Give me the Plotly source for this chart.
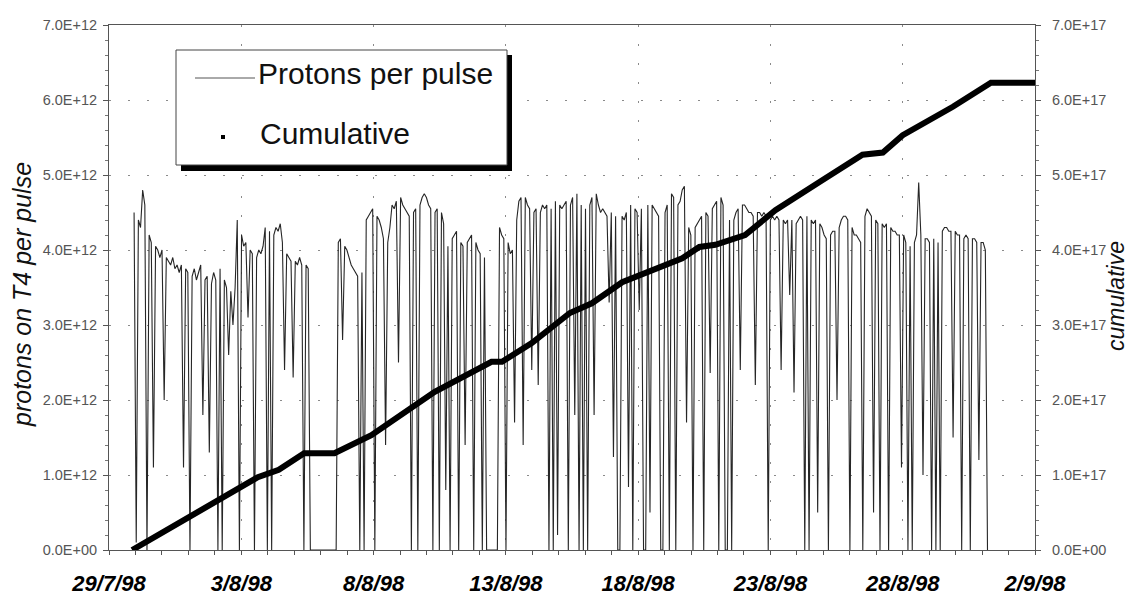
import numpy as np
import pandas as pd
import plotly.graph_objects as go

# ---------------------------------------------------------------------------
# Protons delivered on target T4 per pulse (units of 1E+12), one reading
# every 117 minutes, starting 29/7/98 22:45.  Zeros = beam off.
# ---------------------------------------------------------------------------
PULSE_START = "1998-07-29 22:45"
PULSE_STEP_MIN = 117

pulses_wk1 = [
    4.5, 0.1, 4.4, 4.3, 4.8, 4.6, 0.0, 4.2, 4.1, 1.1, 4.05, 4.0,
    3.9, 4.0, 2.0, 3.9, 3.85, 3.8, 3.9, 3.75, 3.8, 3.7, 3.8, 1.1,
    3.75, 3.7, 0.0, 3.65, 3.75, 3.6, 3.7, 3.8, 1.8, 3.6, 3.65, 1.3,
    3.55, 3.7, 3.6, 0.0, 3.75, 0.0, 3.6, 3.5, 2.6, 3.45, 3.0, 3.5,
    4.4, 0.0, 4.2, 4.05, 4.1, 3.1, 4.0, 3.95, 0.0, 3.9, 4.0, 3.95,
    4.05, 4.3, 0.0, 4.25, 0.0, 4.2, 4.3, 4.25, 4.35, 4.1, 2.4, 3.95,
    3.9, 3.85, 2.3, 3.85, 3.8, 3.9, 3.8, 0.0, 3.8, 3.75, 0.0, 0.0,
]
pulses_wk2 = [
    0.0, 0.0, 0.0, 0.0, 0.0, 0.0, 0.0, 0.0, 0.0, 0.0, 0.0, 4.1,
    4.15, 2.8, 4.05, 4.0, 3.9, 3.8, 3.75, 3.7, 3.65, 0.0, 3.7, 0.0,
    4.4, 4.45, 4.5, 4.55, 0.0, 4.45, 4.4, 4.3, 4.15, 1.4, 4.1, 4.3,
    4.6, 4.55, 4.65, 2.5, 4.7, 4.6, 4.55, 4.5, 4.45, 0.0, 4.5, 4.55,
    0.0, 4.6, 4.7, 4.75, 4.7, 4.6, 4.55, 0.0, 4.5, 4.55, 0.0, 4.5,
    4.35, 0.8, 4.05, 0.0, 4.15, 4.2, 4.25, 0.0, 4.1, 4.05, 1.4, 4.1,
    4.15, 4.2, 0.0, 4.1, 4.0, 3.95, 0.0, 3.9, 0.0, 0.0, 0.0, 0.0,
]
pulses_wk3 = [
    0.0, 0.0, 4.3, 4.2, 4.15, 0.0, 4.1, 3.95, 4.0, 1.7, 4.4, 4.65,
    4.7, 1.4, 4.7, 4.6, 4.55, 2.4, 4.5, 4.55, 2.2, 4.5, 4.6, 4.55,
    4.6, 0.0, 4.55, 0.0, 4.65, 0.2, 4.6, 4.55, 4.6, 4.65, 0.0, 4.6,
    4.7, 1.8, 4.75, 0.0, 4.6, 0.0, 4.55, 0.0, 4.6, 4.7, 1.8, 4.75,
    4.6, 4.5, 4.55, 4.5, 4.45, 3.3, 4.5, 1.24, 4.45, 0.0, 0.0, 4.45,
    4.4, 4.5, 0.84, 4.6, 0.0, 4.55, 4.5, 3.2, 4.55, 0.0, 0.0, 4.6,
    0.5, 4.6, 4.55, 4.5, 4.45, 0.0, 0.0, 4.5, 4.6, 0.0, 4.75, 4.7,
]
pulses_wk4 = [
    0.0, 4.6, 4.65, 4.8, 4.85, 1.7, 4.3, 4.2, 0.0, 4.3, 4.35, 4.4,
    4.45, 0.0, 4.5, 4.45, 2.36, 4.55, 4.6, 4.65, 0.0, 4.7, 4.6, 0.0,
    0.0, 4.4, 0.0, 4.4, 4.5, 4.55, 2.4, 4.6, 4.6, 4.55, 4.5, 4.5,
    4.45, 2.2, 4.5, 4.5, 4.45, 4.5, 4.45, 0.0, 4.4, 4.45, 4.4, 4.45,
    4.4, 2.4, 4.4, 4.35, 4.4, 3.4, 4.4, 2.1, 4.35, 4.4, 4.45, 4.4,
    0.0, 4.45, 0.0, 4.4, 4.35, 4.4, 0.5, 4.35, 4.3, 4.2, 4.15, 0.0,
    4.2, 4.25, 4.25, 2.0, 4.3, 4.4, 4.45, 4.45, 4.4, 0.0, 4.3, 4.2,
]
pulses_wk5 = [
    4.2, 4.15, 4.1, 0.0, 4.45, 4.55, 4.5, 4.45, 0.5, 4.4, 4.35, 0.0,
    4.35, 4.3, 4.35, 0.0, 4.3, 4.25, 4.25, 4.2, 4.2, 1.1, 4.2, 4.1,
    0.0, 4.05, 0.0, 4.1, 4.2, 4.9, 4.2, 1.0, 4.15, 4.15, 4.1, 0.0,
    4.15, 0.0, 4.1, 0.0, 4.25, 4.3, 4.3, 4.25, 4.25, 1.5, 4.25, 4.2,
    4.2, 0.0, 4.15, 4.2, 4.15, 0.0, 4.15, 4.15, 4.1, 1.2, 4.1, 4.1,
    4.0, 0.0,
]

# Integrated protons on target (units of 1E+17)
cum_times = [
    "1998-07-29 21:00", "1998-08-02 06:00", "1998-08-03 15:00", "1998-08-04 10:00",
    "1998-08-05 09:00", "1998-08-06 12:30", "1998-08-07 22:00", "1998-08-10 07:30",
    "1998-08-12 11:00", "1998-08-12 20:30", "1998-08-13 23:30", "1998-08-15 10:00",
    "1998-08-16 06:00", "1998-08-17 09:30", "1998-08-18 19:00", "1998-08-19 16:00",
    "1998-08-20 07:30", "1998-08-20 22:00", "1998-08-22 01:00", "1998-08-23 04:30",
    "1998-08-24 23:00", "1998-08-26 11:30", "1998-08-27 06:00", "1998-08-28 00:00",
    "1998-08-29 21:30", "1998-08-31 08:00", "1998-09-02 00:00",
]
cum_values = [
    0.0, 0.69, 0.97, 1.07, 1.29, 1.29, 1.53, 2.11, 2.51, 2.51, 2.76, 3.16,
    3.29, 3.57, 3.77, 3.89, 4.04, 4.07, 4.20, 4.53, 4.93, 5.27, 5.30, 5.53,
    5.91, 6.23, 6.23,
]

# Axis ticks
date_ticks = ["1998-07-29", "1998-08-03", "1998-08-08", "1998-08-13",
              "1998-08-18", "1998-08-23", "1998-08-28", "1998-09-02"]
date_labels = ["29/7/98", "3/8/98", "8/8/98", "13/8/98",
               "18/8/98", "23/8/98", "28/8/98", "2/9/98"]
left_ticks = [0, 1e12, 2e12, 3e12, 4e12, 5e12, 6e12, 7e12]
left_labels = ["0.0E+00", "1.0E+12", "2.0E+12", "3.0E+12",
               "4.0E+12", "5.0E+12", "6.0E+12", "7.0E+12"]
right_ticks = [0, 1e17, 2e17, 3e17, 4e17, 5e17, 6e17, 7e17]
right_labels = ["0.0E+00", "1.0E+17", "2.0E+17", "3.0E+17",
                "4.0E+17", "5.0E+17", "6.0E+17", "7.0E+17"]

# ---------------------------------------------------------------------------
pulse_values = np.array(pulses_wk1 + pulses_wk2 + pulses_wk3 + pulses_wk4 + pulses_wk5) * 1e12
pulse_times = pd.date_range(PULSE_START, periods=len(pulse_values),
                            freq=f"{PULSE_STEP_MIN}min")
cum = np.array(cum_values) * 1e17

W, H = 1131, 603
L, R, T, B = 109, 1035, 25, 550          # plot area in pixels
FONT = "Liberation Sans, Arial, Helvetica, sans-serif"


def px(x):
    return (x - L) / (R - L)


def py(y):
    return (B - y) / (B - T)


fig = go.Figure()
fig.add_trace(go.Scatter(
    x=pulse_times, y=pulse_values, mode="lines",
    line=dict(color="#262626", width=1.1), name="Protons per pulse",
))
fig.add_trace(go.Scatter(
    x=pd.to_datetime(cum_times), y=cum, mode="lines", yaxis="y2",
    line=dict(color="#000000", width=6), name="Cumulative",
))

grid = dict(showgrid=True, gridcolor="#8a8a8a", gridwidth=1, griddash="2px,17px")

fig.update_layout(
    width=W, height=H,
    margin=dict(l=L, r=W - R, t=T, b=H - B),
    paper_bgcolor="white", plot_bgcolor="white",
    showlegend=False,
    font=dict(family=FONT, color="#222"),
    xaxis=dict(
        type="date", range=["1998-07-29", "1998-09-02"], automargin=False,
        tickmode="array", tickvals=date_ticks, ticktext=date_labels,
        tickfont=dict(size=22, color="#000", weight="bold", style="italic"),
        ticks="outside", ticklen=4, tickcolor="#555",
        ticklabelstandoff=10,
        showline=True, linecolor="#555", linewidth=1, mirror=True,
        zeroline=False,
        minor=dict(dtick=86400000, ticks="outside", ticklen=4, tickcolor="#555",
                   showgrid=False),
        **grid,
    ),
    yaxis=dict(
        range=[0, 7e12], tickmode="array", tickvals=left_ticks, ticktext=left_labels,
        automargin=False,
        tickfont=dict(size=14.5, color="#555"),
        ticks="outside", ticklen=5, tickcolor="#555", ticklabelstandoff=3,
        showline=True, linecolor="#555", linewidth=1, zeroline=False,
        minor=dict(dtick=2e11, ticks="outside", ticklen=3, tickcolor="#777",
                   showgrid=False),
        **grid,
    ),
    yaxis2=dict(
        range=[0, 7e17], overlaying="y", side="right", automargin=False,
        tickmode="array", tickvals=right_ticks, ticktext=right_labels,
        tickfont=dict(size=14.5, color="#555"),
        ticks="outside", ticklen=5, tickcolor="#555", ticklabelstandoff=8,
        showline=True, linecolor="#555", linewidth=1, zeroline=False, showgrid=False,
        minor=dict(dtick=2e16, ticks="outside", ticklen=3, tickcolor="#777"),
    ),
)

# Axis titles
fig.add_annotation(text="protons on T4 per pulse", xref="paper", yref="paper",
                   x=0, y=py(295), xshift=22 - L, textangle=-90, showarrow=False,
                   xanchor="center", yanchor="middle",
                   font=dict(size=25, style="italic", color="#111"))
fig.add_annotation(text="cumulative", xref="paper", yref="paper",
                   x=1, y=py(296), xshift=1116 - R, textangle=-90, showarrow=False,
                   xanchor="center", yanchor="middle",
                   font=dict(size=23, style="italic", color="#111"))

# Legend box with drop shadow
shapes = [
    dict(type="rect", xref="paper", yref="paper", layer="above",
         x0=px(181), x1=px(512), y0=py(55), y1=py(171),
         fillcolor="#000", line=dict(width=0)),
    dict(type="rect", xref="paper", yref="paper", layer="above",
         x0=px(176), x1=px(507), y0=py(50), y1=py(165),
         fillcolor="white", line=dict(color="#444", width=1)),
    dict(type="line", xref="paper", yref="paper", layer="above",
         x0=px(195), x1=px(255), y0=py(78), y1=py(78),
         line=dict(color="#555", width=1)),
    dict(type="rect", xref="paper", yref="paper", layer="above",
         x0=px(221), x1=px(225), y0=py(135), y1=py(139),
         fillcolor="#000", line=dict(width=0)),
]
fig.update_layout(shapes=shapes)
fig.add_annotation(text="Protons per pulse", xref="paper", yref="paper",
                   x=px(256), y=py(73), xanchor="left", yanchor="middle",
                   showarrow=False, font=dict(size=30, color="#111"))
fig.add_annotation(text="Cumulative", xref="paper", yref="paper",
                   x=px(258), y=py(133), xanchor="left", yanchor="middle",
                   showarrow=False, font=dict(size=30, color="#111"))

fig.write_html("out.html")
